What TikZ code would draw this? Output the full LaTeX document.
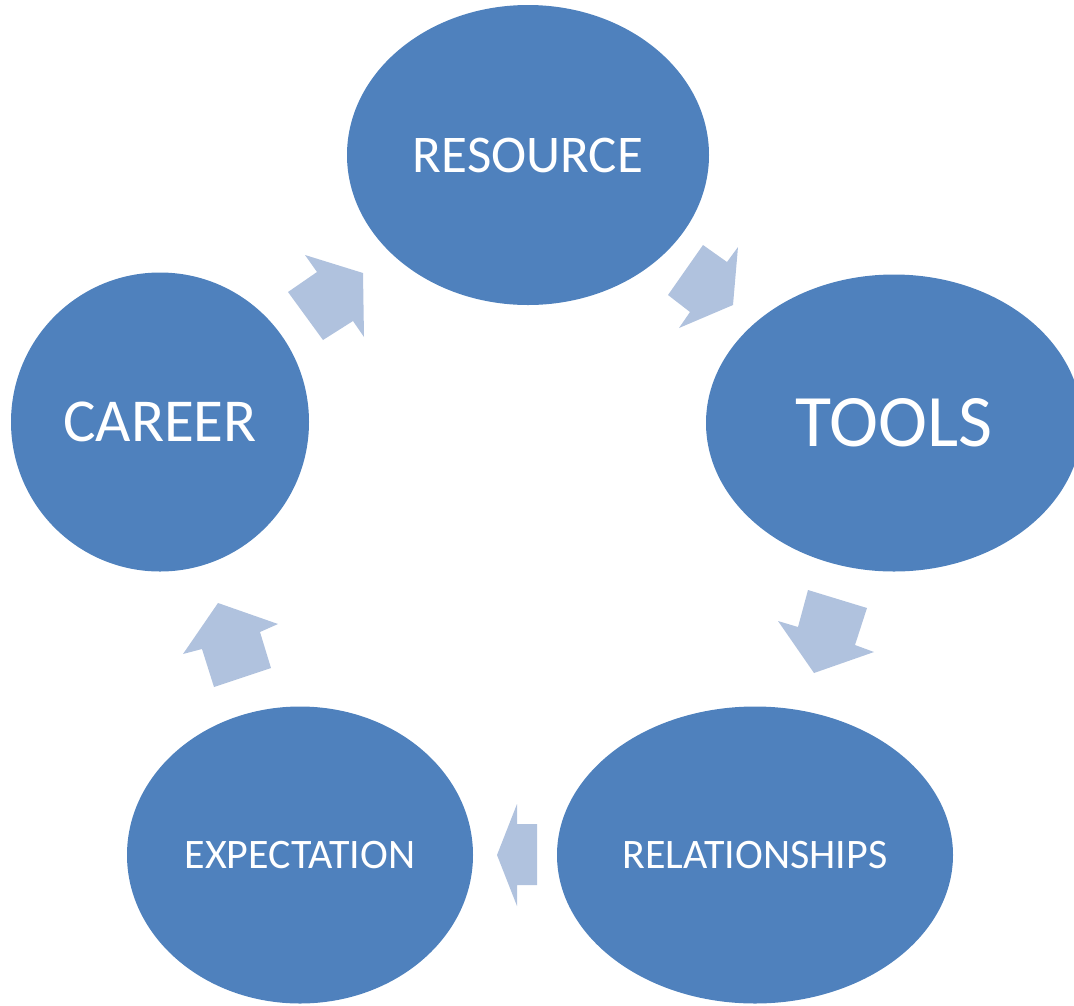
\documentclass[tikz,border=0pt]{standalone}
\usepackage{fontspec}
\setmainfont{Carlito}
\usetikzlibrary{shapes.geometric}
\definecolor{cycleBlue}{RGB}{79,129,189}
\definecolor{arrowBlue}{RGB}{176,194,222}
\tikzset{
  stage/.style={ellipse, fill=cycleBlue, text=white, inner sep=0pt},
  blockarrow/.style={fill=arrowBlue},
}

\begin{document}
\begin{tikzpicture}[x=1pt, y=-1pt]
    \useasboundingbox (0,0) rectangle (1074,1005);
    \clip (0,0) rectangle (1074,1005);

    % stages of the cycle
    \node[stage, minimum width=362pt, minimum height=300pt] (resource) at (528,155) {\fontsize{53}{53}\selectfont RESOURCE};
    \node[stage, minimum width=376pt, minimum height=297pt] (tools) at (894,423) {\fontsize{74}{74}\selectfont TOOLS};
    \node[stage, minimum width=298pt, minimum height=299pt] (career) at (160,422) {\fontsize{61}{61}\selectfont CAREER};
    \node[stage, minimum width=346pt, minimum height=297pt] (expect) at (300,855) {\fontsize{42}{42}\selectfont EXPECTATION};
    \node[stage, minimum width=396pt, minimum height=297pt] (relations) at (755,855) {\fontsize{42}{42}\selectfont RELATIONSHIPS};

    % block arrows between the stages
    \fill[blockarrow] (305,255) -- (363,273) -- (364,337) -- (353,321) -- (323,340) -- (288,292) -- (317,272) -- cycle;
    \fill[blockarrow] (703,245) -- (727,262) -- (738,247) -- (733,305) -- (679,328) -- (690,312) -- (668,295) -- cycle;
    \fill[blockarrow] (808,590) -- (867,608) -- (855,645) -- (874,652) -- (814,673) -- (778,621) -- (798,627) -- cycle;
    \fill[blockarrow] (517,804) -- (517,824) -- (537,824) -- (537,885) -- (517,885) -- (517,906) -- (497,855) -- cycle;
    \fill[blockarrow] (218,603) -- (278,624) -- (260,632) -- (271,668) -- (214,687) -- (202,649) -- (183,654) -- cycle;
\end{tikzpicture}
\end{document}
